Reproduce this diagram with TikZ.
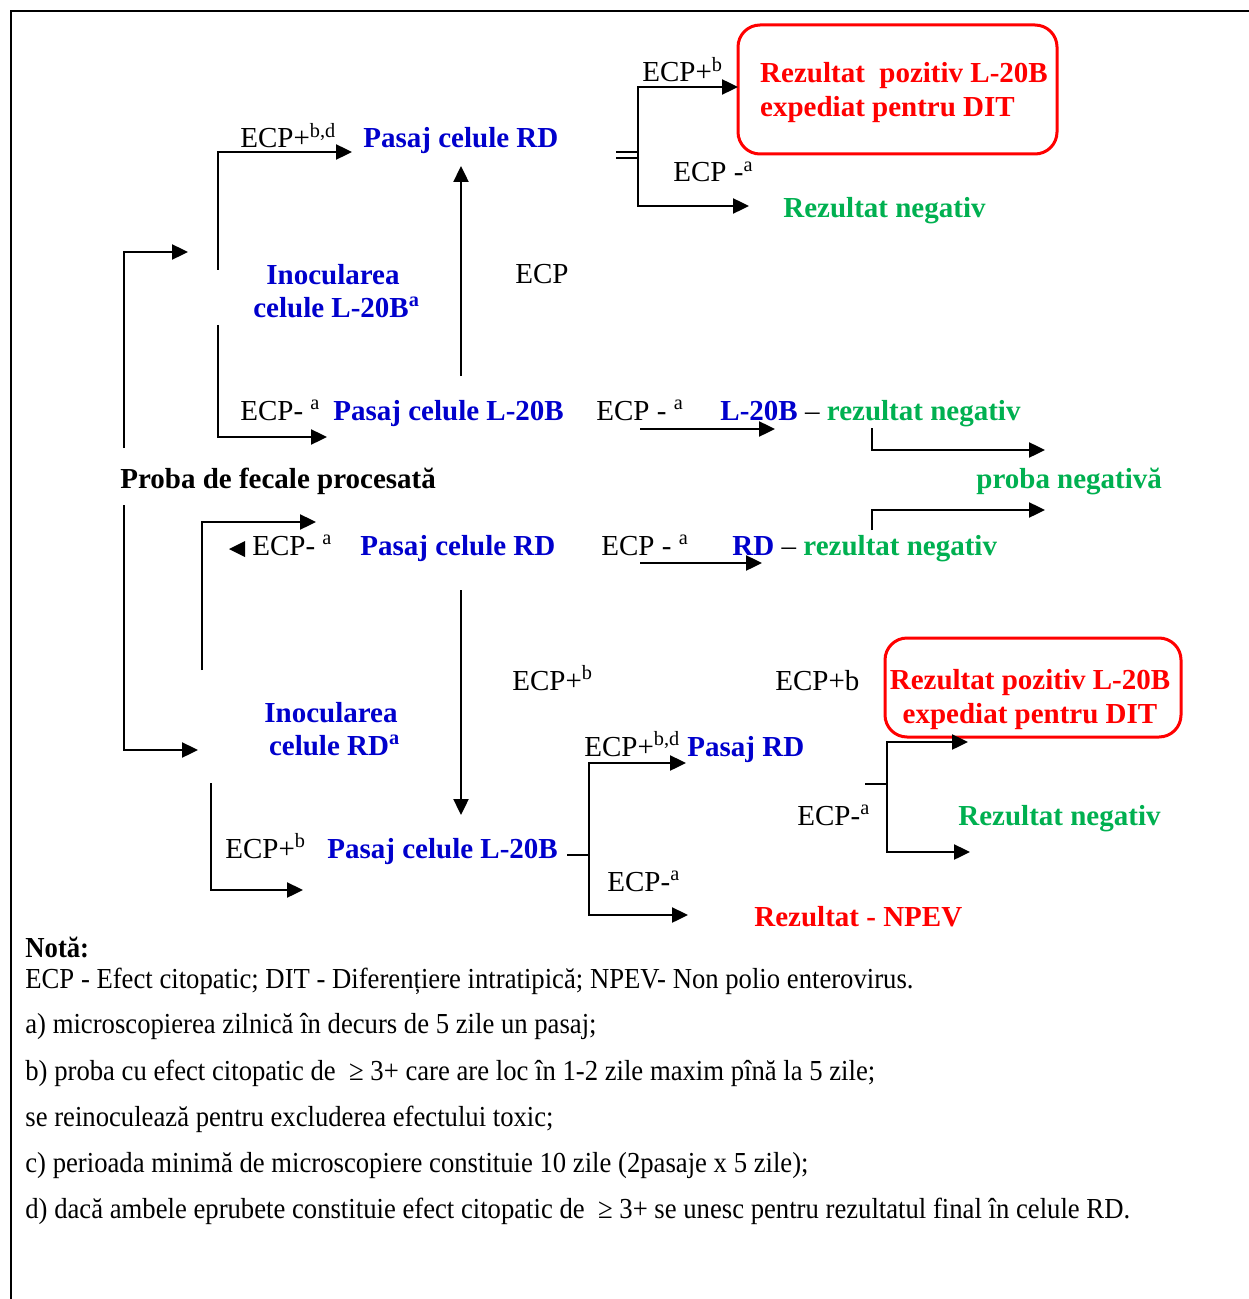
\documentclass[tikz,border=0pt]{standalone}
\usepackage{fontspec}
\setmainfont{Liberation Serif}
\newfontfamily\notefont[FakeStretch=0.92]{Liberation Serif}
\usetikzlibrary{arrows.meta, positioning}
\definecolor{cellblue}{RGB}{0,0,204}
\definecolor{neggreen}{RGB}{0,176,80}
\definecolor{posred}{RGB}{255,0,0}
\tikzset{
  lbl/.style={anchor=base west, inner sep=0pt, font=\fontsize{14.5}{16.5}\selectfont},
  cell/.style={lbl, text=cellblue, font=\fontsize{14.5}{16.5}\selectfont\bfseries},
  negres/.style={lbl, text=neggreen, font=\fontsize{14.5}{16.5}\selectfont\bfseries},
  posbox/.style={draw=posred, line width=1.5pt, rounded corners=11pt, inner sep=0pt},
  postext/.style={text=posred, inner sep=0pt, font=\fontsize{14.5}{17}\selectfont\bfseries},
  note/.style={anchor=base west, inner sep=0pt, font=\notefont\fontsize{14.5}{17}\selectfont},
  link/.style={->, line width=1.2pt},
}
\begin{document}
\begin{tikzpicture}[x=0.5pt, y=-0.5pt, >={Triangle[length=8pt,width=7.5pt]}]
\useasboundingbox (0,0) rectangle (1248,1299);
\draw[line width=1.2pt] (1250,11) -- (11,11) -- (11,1301);

\node[lbl] (ecpbdtop) at (240,148) {ECP+\textsuperscript{b,d}};
\node[cell] (rdtop) at (363,148) {Pasaj celule RD};
\node[lbl] (ecpup) at (515,284) {ECP};
\node[cell, anchor=center, align=center] (inocl) at (333,291) {Inocularea\\\ celule L-20B\textsuperscript{a}};
\node[lbl] (ecpbtop) at (642,82) {ECP+\textsuperscript{b}};
\node[posbox, minimum width=159.5pt, minimum height=64.5pt] (postopbox) at (897.5,89.5) {};
\node[postext, align=left] (postop) at (904,93) {Rezultat\ \ pozitiv L-20B\\expediat pentru DIT};
\node[lbl] (ecpatop) at (673,182) {ECP -\textsuperscript{a}};
\node[negres] (negtop) at (783,218) {Rezultat negativ};

\node[lbl] (ecpal) at (240,420) {ECP- \textsuperscript{a}};
\node[cell] (l20bmid) at (333,420) {Pasaj celule L-20B};
\node[lbl] (ecpam) at (596,420) {ECP - \textsuperscript{a}};
\node[lbl] (l20bneg) at (720,420) {\textbf{\color{cellblue}L-20B} -- \textbf{\color{neggreen}rezultat negativ}};
\node[lbl, font=\fontsize{14.5}{16.5}\selectfont\bfseries] (proba) at (120,488) {Proba de fecale procesată};
\node[negres] (probaneg) at (976,488) {proba negativă};
\node[lbl] (ecpar) at (252,555) {ECP- \textsuperscript{a}};
\node[cell] (rdmid) at (360,555) {Pasaj celule RD};
\node[lbl] (ecpan) at (601,555) {ECP - \textsuperscript{a}};
\node[lbl] (rdneg) at (732,555) {\textbf{\color{cellblue}RD} -- \textbf{\color{neggreen}rezultat negativ}};

\node[cell, anchor=center, align=center] (inocrd) at (331,729) {Inocularea\\\ celule RD\textsuperscript{a}};
\node[lbl] (ecpbdn) at (512,690) {ECP+\textsuperscript{b}};
\node[lbl] (ecpbplain) at (775,690) {ECP+b};
\node[posbox, minimum width=148pt, minimum height=49.5pt] (posbotbox) at (1033,687.5) {};
\node[postext, align=center] (posbot) at (1030,700) {Rezultat pozitiv L-20B\\expediat pentru DIT};
\node[lbl] (ecpbdbot) at (584,756) {ECP+\textsuperscript{b,d}};
\node[cell] (pasajrd) at (687,756) {Pasaj RD};
\node[lbl] (ecpaneg) at (797,825) {ECP-\textsuperscript{a}};
\node[negres] (negbot) at (958,825) {Rezultat negativ};
\node[lbl] (ecpbbot) at (225,858) {ECP+\textsuperscript{b}};
\node[cell] (l20bbot) at (327,858) {Pasaj celule L-20B};
\node[lbl] (ecpanpev) at (607,891) {ECP-\textsuperscript{a}};
\node[lbl, text=posred, font=\fontsize{14.5}{16.5}\selectfont\bfseries] (npev) at (754,926) {Rezultat - NPEV};

\coordinate (up0) at (124,448);   \coordinate (up1) at (188,252);
\coordinate (lb0) at (218,270);   \coordinate (lb1) at (352,152);
\coordinate (lb2) at (218,325);   \coordinate (lb3) at (327,437);
\coordinate (vu0) at (461,376);   \coordinate (vu1) at (461,166);
\coordinate (sp0) at (616,152);   \coordinate (sp1) at (616,158);
\coordinate (sp2) at (638,155);
\coordinate (sp3) at (738,87);    \coordinate (sp4) at (749,206);
\coordinate (nl0) at (640,429);   \coordinate (nl1) at (775,429);
\coordinate (jn0) at (872,428);   \coordinate (jn1) at (1045,450);
\coordinate (jn2) at (872,530);   \coordinate (jn3) at (1045,510);
\coordinate (nr0) at (640,563);   \coordinate (nr1) at (762,563);
\coordinate (rb0) at (202,670);   \coordinate (rb1) at (316,522);
\coordinate (dn0) at (124,505);   \coordinate (dn1) at (198,750);
\coordinate (vd0) at (461,590);   \coordinate (vd1) at (461,815);
\coordinate (rl0) at (211,783);   \coordinate (rl1) at (303,890);
\coordinate (br0) at (567,855);   \coordinate (br1) at (589,855);
\coordinate (br2) at (686,763);   \coordinate (br3) at (688,915);
\coordinate (bq0) at (865,784);   \coordinate (bq1) at (887,784);
\coordinate (bq2) at (968,742);   \coordinate (bq3) at (970,852);

\draw[link] (up0) |- (up1);
\draw[link] (lb0) |- (lb1);
\draw[link] (lb2) |- (lb3);
\draw[link] (vu0) -- (vu1);
\draw[line width=1.2pt] (sp0) -- (sp0 -| sp2) (sp1) -- (sp1 -| sp2);
\draw[link] (sp2) |- (sp3);
\draw[link] (sp2) |- (sp4);
\draw[link] (nl0) -- (nl1);
\draw[link] (jn0) |- (jn1);
\draw[link] (jn2) |- (jn3);
\draw[link] (nr0) -- (nr1);
\draw[link] (rb0) |- (rb1);
\fill (229,549) -- (245,541) -- (245,557) -- cycle;
\draw[link] (dn0) |- (dn1);
\draw[link] (vd0) -- (vd1);
\draw[link] (rl0) |- (rl1);
\draw[line width=1.2pt] (br0) -- (br1);
\draw[link] (br1) |- (br2);
\draw[link] (br1) |- (br3);
\draw[line width=1.2pt] (bq0) -- (bq1);
\draw[link] (bq1) |- (bq2);
\draw[link] (bq1) |- (bq3);

\node[lbl, font=\notefont\fontsize{14.5}{17}\selectfont\bfseries] (nota) at (25,957) {Notă:};
\node[note] (abbr) at (25,988) {ECP - Efect citopatic; DIT - Diferențiere intratipică; NPEV- Non polio enterovirus.};
\node[note] (notea) at (25,1033) {a) microscopierea zilnică în decurs de 5 zile un pasaj;};
\node[note] (noteb) at (25,1080) {b) proba cu efect citopatic de \ ≥ 3+ care are loc în 1-2 zile maxim pînă la 5 zile;};
\node[note] (notebb) at (25,1126) {se reinoculează pentru excluderea efectului toxic;};
\node[note] (notec) at (25,1172) {c) perioada minimă de microscopiere constituie 10 zile (2pasaje x 5 zile);};
\node[note] (noted) at (25,1218) {d) dacă ambele eprubete constituie efect citopatic de \ ≥ 3+ se unesc pentru rezultatul final în celule RD.};
\end{tikzpicture}
\end{document}
